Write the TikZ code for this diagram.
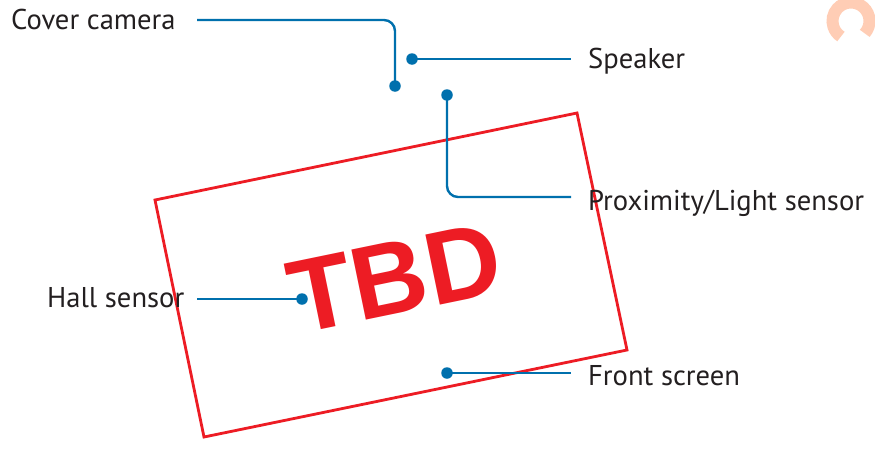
\documentclass[tikz,border=0pt]{standalone}
\usepackage{fontspec}
\setmainfont{PT Sans}
\begin{document}
\begin{tikzpicture}[x=1pt,y=-1pt,
  lbl/.style={inner sep=0pt, text=labeltext, font=\fontsize{28.6}{33}\selectfont},
  dot/.style={circle, fill=leaderblue, inner sep=0pt, minimum size=11.5pt},
  leader/.style={draw=leaderblue, line width=2.4pt, rounded corners=11pt},
  stamp/.style={draw=stampred, line width=2.8pt}]
\definecolor{leaderblue}{HTML}{0070AD}
\definecolor{labeltext}{HTML}{231F20}
\definecolor{stampred}{HTML}{ED1C24}
\definecolor{ringorange}{HTML}{FFCDB5}
\useasboundingbox (0,0) rectangle (875,450);
\fill[white] (0,0) rectangle (875,450);

% faint ring mark in the upper right corner
\begin{scope}
\clip (0,0) rectangle (875,450);
\draw[ringorange, line width=12pt] (851,21) ++(42:18.5) arc[start angle=42, end angle=-237, radius=18.5];
\end{scope}

% draft stamp
\draw[stamp] (155,200) -- (577,113) -- (627,350) -- (204,437) -- cycle;
\node[text=stampred, font=\fontspec{Liberation Sans}\bfseries\fontsize{104}{110}\selectfont,
      rotate=11.65, inner sep=0pt] (tbd) at (395,278) {TBD};

% component markers
\node[dot] (dcam) at (395,86) {};
\node[dot] (dspk) at (412,59) {};
\node[dot] (dprox) at (447,95) {};
\node[dot] (dhall) at (302,299) {};
\node[dot] (dfront) at (447,373) {};

% labels
\node[lbl, anchor=base west] (lcam) at (11,29) {Cover camera};
\node[lbl, anchor=base west] (lspk) at (588,68) {Speaker};
\node[lbl, anchor=base west] (lprox) at (588,210) {Proximity/Light sensor};
\node[lbl, anchor=base west] (lhall) at (47,307) {Hall sensor};
\node[lbl, anchor=base west] (lfront) at (588,385) {Front screen};

% leader lines
\draw[leader] (197,20) coordinate (scam) -| (dcam.center);
\draw[leader] (dspk.center) -- (571,59) coordinate (espk);
\draw[leader] (dprox.center) |- (571,197) coordinate (eprox);
\draw[leader] (197,299) coordinate (shall) -- (dhall.center);
\draw[leader] (dfront.center) -- (571,373) coordinate (efront);
\end{tikzpicture}
\end{document}
